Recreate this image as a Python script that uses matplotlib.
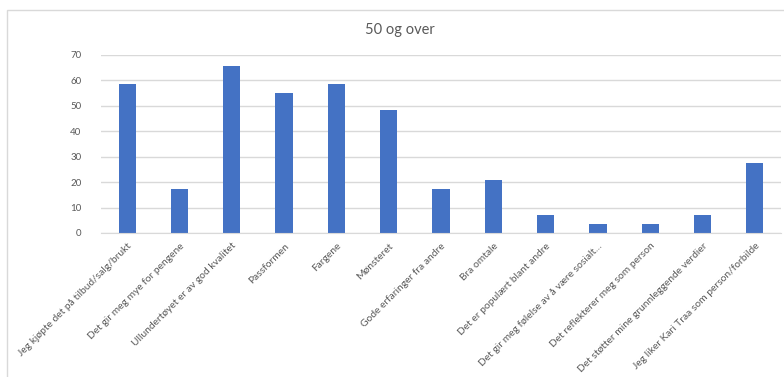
import matplotlib
matplotlib.use("Agg")
import matplotlib.pyplot as plt
from matplotlib.patches import Rectangle

plt.rcParams['font.family'] = ['Lato', 'DejaVu Sans']

categories = [
    "Jeg kjøpte det på tilbud/salg/brukt",
    "Det gir meg mye for pengene",
    "Ullundertøyet er av god kvalitet",
    "Passformen",
    "Fargene",
    "Mønsteret",
    "Gode erfaringer fra andre",
    "Bra omtale",
    "Det er populært blant andre",
    "Det gir meg følelse av å være sosialt…",
    "Det reflekterer meg som person",
    "Det støtter mine grunnleggende verdier",
    "Jeg liker Kari Traa som person/forbilde",
]
values = [58.6, 17.2, 65.5, 55.2, 58.6, 48.3, 17.2, 20.7, 6.9, 3.4, 3.4, 6.9, 27.6]
yticks = [0, 10, 20, 30, 40, 50, 60, 70]
title = "50 og over"

W, H = 784, 377
fig = plt.figure(figsize=(W / 100, H / 100), dpi=100)
fig.patch.set_facecolor("white")

# chart frame
fig.add_artist(Rectangle((7 / W, -0.05), 1.2, (H - 10) / H + 0.05,
                         transform=fig.transFigure, fill=False,
                         edgecolor="#D9D9D9", linewidth=1.0))

left, right = 101 / W, 781 / W
bottom, top = (H - 233) / H, (H - 55) / H
ax = fig.add_axes([left, bottom, right - left, top - bottom])

x = list(range(len(categories)))
ax.bar(x, values, width=0.33, color="#4472C4", zorder=3)

ax.set_xlim(-0.5, len(categories) - 0.5)
ax.set_ylim(0, 70)
ax.set_yticks(yticks)
ax.set_yticklabels([str(t) for t in yticks], fontsize=7, color="#595959")
ax.yaxis.grid(True, color="#D9D9D9", linewidth=1.0, zorder=0)
ax.tick_params(axis="y", length=0, pad=14)
ax.tick_params(axis="x", length=0, pad=6)
ax.set_xticks(x)
ax.set_xticklabels(categories, rotation=45, ha="right", va="top",
                   rotation_mode="anchor", fontsize=7.4, color="#595959")
for s in ["top", "right", "left"]:
    ax.spines[s].set_visible(False)
ax.spines["bottom"].set_color("#D9D9D9")
ax.spines["bottom"].set_zorder(4)

fig.text(400 / W, 1 - 30 / H, title, ha="center", va="center",
         fontsize=10.5, color="#595959")

fig.savefig("out.png", dpi=100)
